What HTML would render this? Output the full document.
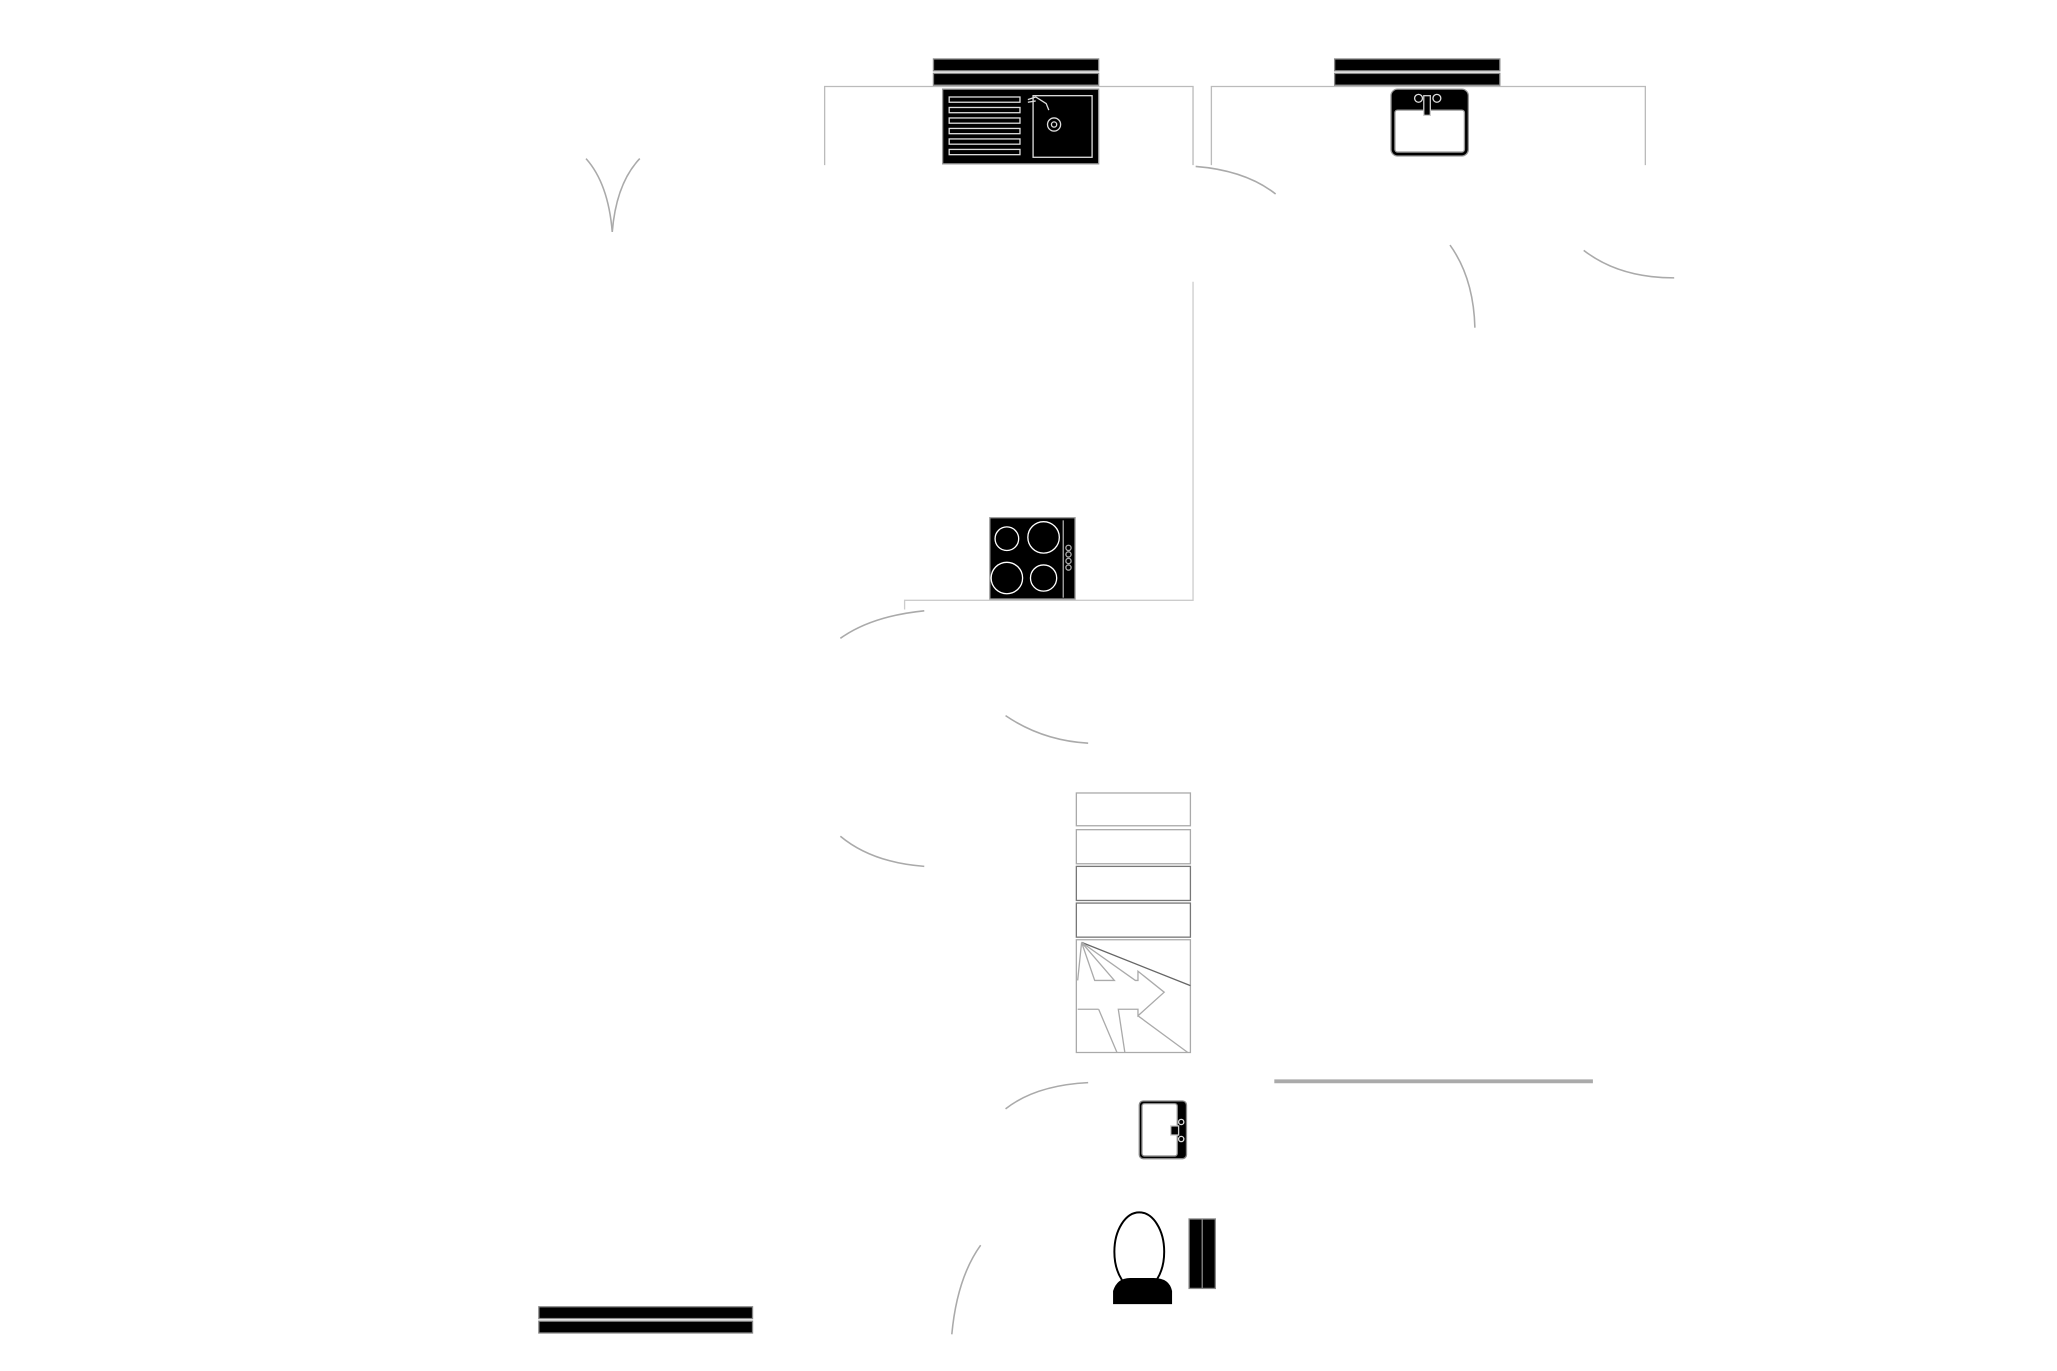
<!DOCTYPE html>
<html><head><meta charset="utf-8"><style>
html,body{margin:0;padding:0;background:#fff;}
svg{display:block;}
</style></head><body>
<svg width="2057" height="1371" viewBox="0 0 1569 1046" preserveAspectRatio="none" xmlns="http://www.w3.org/2000/svg">
<g fill="none" stroke="#bbb" stroke-width="1">
<path d="M629,126 V66 H910 V126"/>
<path d="M924,126 V66 H1255 V126"/>
<path d="M910,215 V458 H690 V465" stroke="#ccc"/>
<g stroke="#aaa" stroke-width="1.2">
<path d="M447,121 Q464,140 467,177"/>
<path d="M488,121 Q470,140 467,177"/>
<path d="M912,127 Q950,130 973,148"/>
<path d="M1106,187 Q1124,212 1125,250"/>
<path d="M1208,191 Q1235,212 1277,212"/>
<path d="M641,487 Q665,470 705,466"/>
<path d="M767,546 Q795,565 830,567"/>
<path d="M641,638 Q665,658 705,661"/>
<path d="M767,846 Q790,828 830,826"/>
<path d="M748,950 Q730,975 726,1018"/>
</g>
</g>
<g fill="#000" stroke="#888" stroke-width="1">
<rect x="712" y="45" width="126" height="9"/><rect x="712" y="56" width="126" height="9"/>
<rect x="1018" y="45" width="126" height="9"/><rect x="1018" y="56" width="126" height="9"/>
<rect x="411" y="997" width="163" height="9"/><rect x="411" y="1008" width="163" height="9"/>
</g>
<rect x="719" y="68" width="119" height="57" fill="#000" stroke="#999"/>
<g fill="none" stroke="#ddd" stroke-width="1">
<rect x="724" y="74" width="54" height="4"/><rect x="724" y="82" width="54" height="4"/>
<rect x="724" y="90" width="54" height="4"/><rect x="724" y="98" width="54" height="4"/>
<rect x="724" y="106" width="54" height="4"/><rect x="724" y="114" width="54" height="4"/>
<rect x="788" y="73" width="45" height="47"/>
<circle cx="804" cy="95" r="5"/><circle cx="804" cy="95" r="2"/>
<path d="M784,76 L790,74 L798,79 L800,84 M784,78 L790,77"/>
</g>
<rect x="1061" y="68" width="59" height="51" rx="5" fill="#000" stroke="#999"/>
<rect x="1064" y="84" width="53" height="32" rx="2" fill="#fff" stroke="#999"/>
<rect x="1086" y="73" width="5" height="15" fill="#000" stroke="#ccc"/>
<circle cx="1082" cy="75" r="3" fill="none" stroke="#ddd"/><circle cx="1096" cy="75" r="3" fill="none" stroke="#ddd"/>
<rect x="755" y="395" width="65" height="62" fill="#000" stroke="#999"/>
<g fill="none" stroke="#fff" stroke-width="1">
<circle cx="768" cy="411" r="9"/><circle cx="796" cy="410" r="12"/>
<circle cx="768" cy="441" r="12"/><circle cx="796" cy="441" r="10"/>
<line x1="811" y1="397" x2="811" y2="456" stroke="#aaa"/>
<circle cx="815" cy="418" r="2" stroke="#aaa"/><circle cx="815" cy="423" r="2" stroke="#aaa"/>
<circle cx="815" cy="428" r="2" stroke="#aaa"/><circle cx="815" cy="433" r="2" stroke="#aaa"/>
</g>
<g fill="none" stroke="#aaa" stroke-width="1">
<rect x="821" y="605" width="87" height="25"/>
<rect x="821" y="633" width="87" height="26"/>
<rect x="821" y="661" width="87" height="26" stroke="#777"/>
<rect x="821" y="689" width="87" height="26" stroke="#777"/>
<path d="M821,717 H908 V803 H821 Z"/>
<path d="M825,719 L908,752" stroke="#666"/>
<path d="M825,719 L822,748 M825,719 L835,748 H850 L825,719 M825,719 L866,748 H868 V741 L888,757 L868,775 V770 H853 L858,803 M838,770 L852,803 M868,775 L906,803 M822,770 H838"/>
</g>
<line x1="972" y1="825" x2="1215" y2="825" stroke="#aaa" stroke-width="3"/>
<rect x="869" y="840" width="36" height="44" rx="3" fill="#000" stroke="#888"/>
<rect x="871" y="842" width="27" height="40" rx="2" fill="#fff" stroke="#888"/>
<rect x="893" y="859" width="6" height="7" fill="#000" stroke="#ccc"/>
<circle cx="901" cy="856" r="2" fill="none" stroke="#ddd"/><circle cx="901" cy="869" r="2" fill="none" stroke="#ddd"/>
<ellipse cx="869" cy="955" rx="19" ry="30" fill="#fff" stroke="#000" stroke-width="1.5"/>
<path d="M849,995 V985 Q852,975 862,975 H880 Q892,975 894,985 V995 Z" fill="#000"/>
<rect x="907" y="930" width="20" height="53" fill="#000" stroke="#888"/>
<line x1="917" y1="930" x2="917" y2="983" stroke="#888"/>
</svg>
</body></html>
